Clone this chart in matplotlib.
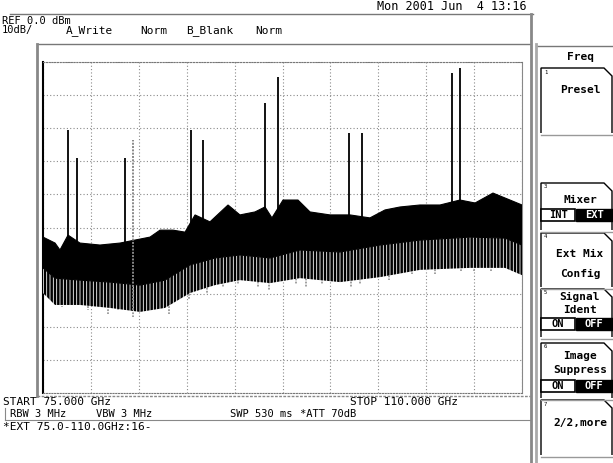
import numpy as np
import matplotlib
matplotlib.use("Agg")
import matplotlib.pyplot as plt
from matplotlib.patches import Rectangle, Polygon

plt.rcParams['font.family'] = ['DejaVu Sans Mono']
plt.rcParams['hatch.linewidth'] = 1.8

# =============================================================================
# Trace data (GHz, dBm)
# =============================================================================
# upper edge of the noise band
f_upper = [75.00, 75.88, 76.24, 76.83, 77.70, 79.16, 80.63, 81.72, 82.82, 83.55,
           84.50, 85.38, 86.11, 87.20, 88.52, 89.39, 90.49, 91.22, 91.73, 92.54,
           93.63, 94.51, 95.97, 97.43, 98.89, 99.99, 101.09, 102.55, 104.01, 105.47,
           106.57, 107.88, 109.12, 110.00]
upper = [-52.9, -54.7, -56.8, -52.3, -54.7, -55.3, -54.7, -53.8, -52.9, -50.8,
         -50.8, -51.4, -46.2, -48.3, -43.2, -46.2, -45.3, -43.8, -47.1, -41.7,
         -41.7, -45.3, -46.2, -46.2, -47.1, -44.7, -43.8, -43.2, -43.2, -41.7,
         -42.6, -39.6, -41.7, -43.2]

# bottom of the solid core and lower edge of the striped part
f_lower = [75.00, 75.88, 77.70, 79.90, 82.09, 83.91, 85.74, 87.57, 89.39, 91.59,
           93.78, 96.70, 99.62, 102.55, 106.20, 108.76, 110.00]
mid = [-62.2, -65.3, -65.9, -66.5, -67.4, -65.9, -61.3, -59.2, -58.3, -59.2,
       -56.8, -57.4, -55.3, -53.8, -52.9, -53.2, -55.3]
lower = [-69.8, -73.4, -73.4, -74.3, -75.5, -74.3, -69.8, -67.4, -65.9, -66.8,
         -65.3, -66.5, -65.0, -62.8, -62.2, -62.2, -64.4]

# spurs sticking out of the band
f_spur = [76.83, 77.48, 80.99, 85.81, 86.69, 91.22, 92.17, 97.36, 98.31, 104.88, 105.47]
spur_top = [-20.5, -29.0, -29.0, -20.5, -23.6, -12.4, -4.5, -21.5, -21.5, -3.3, -1.8]
spur_base = [-54.0, -55.0, -55.0, -50.0, -48.0, -45.0, -46.0, -47.0, -47.0, -44.0, -43.0]
# grey spur drawn dotted
f_spur_grey = [81.58]
spur_grey_top = [-23.6]

# grey dropouts below the band
f_drop = [76.38, 78.28, 79.74, 80.47, 81.58, 84.20, 85.65, 86.95, 88.13, 89.22,
          90.68, 91.55, 93.45, 94.25, 95.42, 97.53, 98.19, 100.30, 101.97, 103.65,
          105.55, 106.50, 107.74]
drop_low = [-74.0, -75.0, -76.0, -75.0, -77.0, -76.0, -72.0, -70.0, -68.0, -67.0,
            -68.0, -69.0, -67.0, -68.0, -67.0, -68.0, -67.0, -66.0, -64.0, -64.0,
            -63.0, -63.0, -63.0]

# =============================================================================
# Figure with a pixel overlay for the screen furniture
# =============================================================================
W, H = 613, 463
fig = plt.figure(figsize=(W / 100, H / 100), dpi=100)
bg = fig.add_axes([0, 0, 1, 1])
bg.set_xlim(0, W)
bg.set_ylim(H, 0)
bg.axis('off')

L, T, R, B = 43, 62, 522, 393
ax = fig.add_axes([L / W, 1 - B / H, (R - L) / W, (B - T) / H])
ax.set_xlim(75, 110)
ax.set_ylim(-100, 0)
ax.set_xticks(np.linspace(75, 110, 11))
ax.set_yticks(np.arange(-100, 1, 10))
ax.tick_params(length=0, labelbottom=False, labelleft=False)
ax.grid(True, color='#8a8a8a', linestyle=(0, (1, 2)), linewidth=0.8)
ax.set_axisbelow(True)
for side in ['top', 'bottom']:
    ax.spines[side].set_linestyle((0, (1, 1.5)))
    ax.spines[side].set_color('#777777')
ax.spines['right'].set_color('#888888')
ax.spines['left'].set_color('black')
ax.spines['left'].set_linewidth(1.5)

# trace
ax.vlines(f_drop, [-58] * len(f_drop), drop_low, color='#9a9a9a', linewidth=1.3,
          linestyles=(0, (1, 0.7)), zorder=2)
ax.fill_between(f_lower, mid, lower, facecolor='white', edgecolor='black',
                hatch='|||||', linewidth=0, zorder=3)
ax.add_patch(Polygon(np.column_stack([f_upper + f_lower[::-1], upper + mid[::-1]]),
                     closed=True, facecolor='black', edgecolor='black', linewidth=0.8, zorder=4))
ax.vlines(f_spur, spur_base, spur_top, color='black', linewidth=1.3, zorder=5)
ax.vlines(f_spur_grey, [-75], spur_grey_top, color='#888888', linewidth=1.4,
          linestyles=(0, (1, 0.7)), zorder=5)

# =============================================================================
# Screen furniture
# =============================================================================
txt = dict(fontsize=8, va='center', color='black')
bg.plot([10, 533], [14, 14], color='#777777', lw=1)
bg.text(527, 7, 'Mon 2001 Jun  4 13:16', ha='right', fontsize=8.5, va='center')
bg.text(2, 21, 'REF 0.0 dBm', fontsize=7.5, va='center')
bg.text(2, 30, '10dB/', fontsize=7.5, va='center')
for word, x in zip(['A_Write', 'Norm', 'B_Blank', 'Norm'], [66, 140, 186, 255]):
    bg.text(x, 31, word, **txt)

bg.plot([37, 530], [44, 44], color='#777777', lw=1)
bg.plot([537, 613], [46, 46], color='#777777', lw=1)
bg.plot([37, 37], [44, 396], color='#888888', lw=2)
bg.plot([37, 530], [396, 396], color='#888888', lw=1, ls=(0, (2, 1)))
bg.plot([531, 531], [14, 463], color='#888888', lw=2)
bg.plot([536, 536], [44, 463], color='#aaaaaa', lw=2)

bg.text(3, 402, 'START 75.000 GHz', **txt)
bg.text(350, 402, 'STOP 110.000 GHz', **txt)
row = dict(fontsize=7.5, va='center', color='black')
bg.text(10, 414, 'RBW 3 MHz', **row)
bg.text(96, 414, 'VBW 3 MHz', **row)
bg.text(230, 414, 'SWP 530 ms', **row)
bg.text(300, 414, '*ATT 70dB', **row)
bg.plot([5, 530], [420, 420], color='#888888', lw=0.8)
bg.plot([5, 5], [408, 420], color='#888888', lw=0.8)
bg.text(3, 427, '*EXT 75.0-110.0GHz:16-', **txt)

# softkeys
sk = dict(fontsize=8, ha='center', va='center', fontweight='bold')
bg.text(580, 57, 'Freq', **sk)


def key_box(top, bottom, num):
    pts = [[541, bottom], [541, top], [604, top], [612, top + 8], [612, bottom]]
    bg.add_patch(Polygon(pts, closed=False, fill=False, edgecolor='black', lw=1))
    bg.plot([541, 613], [bottom + 1.5, bottom + 1.5], color='#999999', lw=1)
    bg.text(544, top + 4, num, fontsize=4, va='center')


def toggle(y, left, right):
    bg.add_patch(Rectangle((541, y - 6), 34, 12, facecolor='white', edgecolor='black', lw=1.2))
    bg.add_patch(Rectangle((576, y - 6), 37, 12, facecolor='black', edgecolor='black'))
    bg.text(558, y, left, fontsize=7.5, ha='center', va='center', fontweight='bold')
    bg.text(594, y, right, fontsize=7.5, ha='center', va='center', fontweight='bold', color='white')


key_box(68, 133, '1')
bg.text(580, 90, 'Presel', **sk)
key_box(183, 230, '3')
bg.text(580, 200, 'Mixer', **sk)
toggle(215, 'INT', 'EXT')
key_box(233, 287, '4')
bg.text(580, 254, 'Ext Mix', **sk)
bg.text(580, 274, 'Config', **sk)
key_box(289, 337, '5')
bg.text(580, 297, 'Signal', **sk)
bg.text(580, 310, 'Ident', **sk)
toggle(324, 'ON', 'OFF')
key_box(343, 398, '6')
bg.text(580, 356, 'Image', **sk)
bg.text(580, 370, 'Suppress', **sk)
toggle(386, 'ON', 'OFF')
key_box(400, 455, '7')
bg.text(580, 423, '2/2,more', **sk)

fig.savefig('out.png', dpi=100)
